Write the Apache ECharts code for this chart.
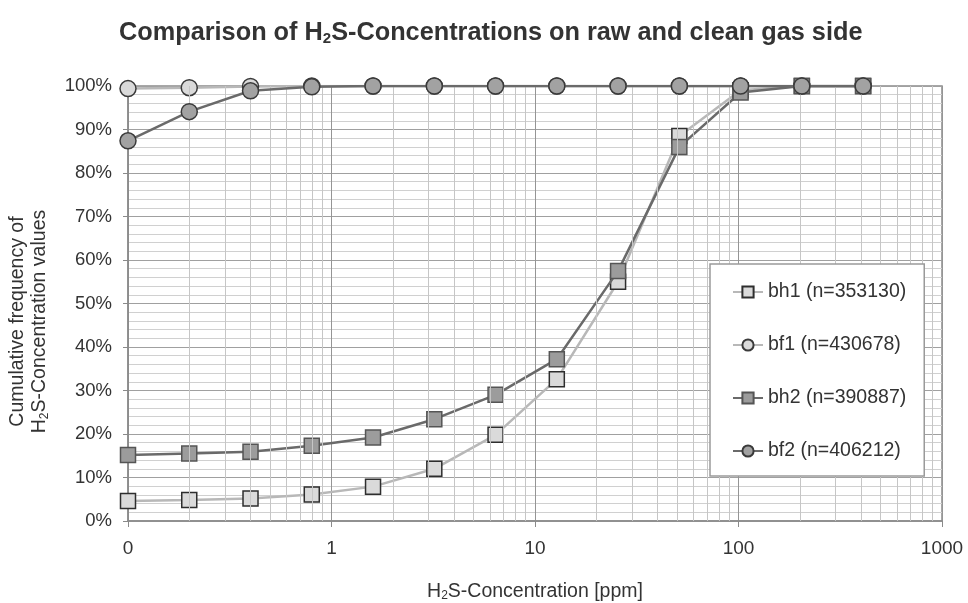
<!DOCTYPE html>
<html>
<head>
<meta charset="utf-8">
<script src="https://cdn.jsdelivr.net/npm/echarts@6/dist/echarts.min.js"></script>
<style>html,body{margin:0;padding:0;background:#fff;}#c{width:968px;height:603px;}</style>
</head>
<body>
<div id="c"></div>
<script>
// Concentration classes [ppm]
const concentrations = [0.1, 0.2, 0.4, 0.8, 1.6, 3.2, 6.4, 12.8, 25.6, 51.2, 102.4, 204.8, 409.6];
// Cumulative frequency [%]
const bh1 = [4.6, 4.8, 5.2, 6.1, 7.9, 12.0, 19.8, 32.6, 55.0, 88.5, 99.0, 100, 100];
const bf1 = [99.4, 99.6, 99.9, 100, 100, 100, 100, 100, 100, 100, 100, 100, 100];
const bh2 = [15.2, 15.5, 15.9, 17.3, 19.2, 23.4, 29.0, 37.2, 57.5, 86.0, 98.5, 100, 100];
const bf2 = [87.4, 94.1, 98.9, 99.8, 100, 100, 100, 100, 100, 100, 100, 100, 100];
const seriesNames = ['bh1 (n=353130)', 'bf1 (n=430678)', 'bh2 (n=390887)', 'bf2 (n=406212)'];
const xTickLabels = ['0', '1', '10', '100', '1000'];

const pairs = arr => concentrations.map((x, i) => [x, arr[i]]);
const minorX = [];
for (let d = 0.1; d < 1000; d *= 10) {
  for (let k = 2; k <= 9; k++) minorX.push({ xAxis: +(k * d).toPrecision(3) });
}
const font = '"Liberation Sans", Arial, sans-serif';
const sub = { fontSize: 12, verticalAlign: 'bottom', padding: [9, 0, 0, 0], fontFamily: font, color: '#333' };

const chart = echarts.init(document.getElementById('c'), null, { renderer: 'canvas' });
chart.setOption({
  backgroundColor: '#fff',
  animation: false,
  title: {
    text: 'Comparison of H{sub|2}S-Concentrations on raw and clean gas side',
    left: 114, top: 15,
    textStyle: {
      fontFamily: font, fontSize: 25.3, fontWeight: 'bold', color: '#333',
      rich: { sub: { fontSize: 15, fontWeight: 'bold', padding: [11, 0, 0, 0], fontFamily: font, color: '#333' } }
    }
  },
  grid: { left: 128, right: 26, top: 86, bottom: 82, outerBoundsMode: 'none', containLabel: false, show: true, borderColor: '#8a8a8a', borderWidth: 1.5, backgroundColor: 'transparent' },
  legend: {
    orient: 'vertical', left: 710, top: 264, z: 20,
    data: seriesNames,
    backgroundColor: '#fff', borderColor: '#9a9a9a', borderWidth: 1.5,
    padding: [18, 18, 15, 22],
    itemGap: 33, itemWidth: 30, itemHeight: 14,
    textStyle: { fontFamily: font, fontSize: 19.5, color: '#333' }
  },
  xAxis: {
    type: 'log', logBase: 10, min: 0.1, max: 1000,
    name: 'H{sub|2}S-Concentration [ppm]', nameLocation: 'middle', nameGap: 60,
    nameTextStyle: { fontFamily: font, fontSize: 19.5, color: '#333', rich: { sub: sub } },
    axisLine: { lineStyle: { color: '#8a8a8a', width: 1.5 } },
    axisTick: { show: true, length: 6, lineStyle: { color: '#8a8a8a' } },
    axisLabel: {
      fontFamily: font, fontSize: 19, color: '#333', margin: 18,
      formatter: v => { const i = Math.round(Math.log10(v)) + 1; return xTickLabels[i] !== undefined ? xTickLabels[i] : ''; }
    },
    splitLine: { show: true, lineStyle: { color: '#959595', width: 1 } }
  },
  yAxis: {
    type: 'value', min: 0, max: 100, interval: 10,
    name: 'Cumulative frequency of\nH{sub|2}S-Concentration values',
    nameLocation: 'middle', nameGap: 77, nameRotate: 90,
    nameTextStyle: { fontFamily: font, fontSize: 19.5, color: '#333', lineHeight: 22, padding: [0, 36, 0, 0], rich: { sub: sub } },
    axisLine: { show: true, lineStyle: { color: '#8a8a8a', width: 1.5 } },
    axisTick: { show: true, length: 5, lineStyle: { color: '#8a8a8a' } },
    axisLabel: { fontFamily: font, fontSize: 18.5, color: '#333', margin: 16, formatter: '{value}%' },
    splitLine: { show: true, lineStyle: { color: '#a0a0a0', width: 1 } },
    minorTick: { show: false, splitNumber: 5 },
    minorSplitLine: { show: true, lineStyle: { color: '#d0d0d0', width: 1 } }
  },
  series: [
    {
      name: 'minor-grid', type: 'line', data: [], silent: true, z: 0,
      markLine: {
        silent: true, symbol: 'none', label: { show: false }, animation: false,
        lineStyle: { color: '#c6c6c6', width: 1, type: 'solid' },
        emphasis: { disabled: true },
        data: minorX
      }
    },
    {
      name: seriesNames[0], type: 'line', data: pairs(bh1), z: 3,
      symbol: 'rect', symbolSize: 15,
      lineStyle: { color: '#b8b8b8', width: 2.5 },
      itemStyle: { color: '#dadada', borderColor: '#2e2e2e', borderWidth: 1.5 }
    },
    {
      name: seriesNames[1], type: 'line', data: pairs(bf1), z: 3,
      symbol: 'circle', symbolSize: 16,
      lineStyle: { color: '#b8b8b8', width: 2.5 },
      itemStyle: { color: '#dadada', borderColor: '#3a3a3a', borderWidth: 1.5 }
    },
    {
      name: seriesNames[2], type: 'line', data: pairs(bh2), z: 4,
      symbol: 'rect', symbolSize: 15,
      lineStyle: { color: '#6a6a6a', width: 2.5 },
      itemStyle: { color: '#9c9c9c', borderColor: '#555', borderWidth: 1.5 }
    },
    {
      name: seriesNames[3], type: 'line', data: pairs(bf2), z: 5,
      symbol: 'circle', symbolSize: 16,
      lineStyle: { color: '#6a6a6a', width: 2.5 },
      itemStyle: { color: '#a2a2a2', borderColor: '#3a3a3a', borderWidth: 1.5 }
    }
  ]
});
</script>
</body>
</html>
